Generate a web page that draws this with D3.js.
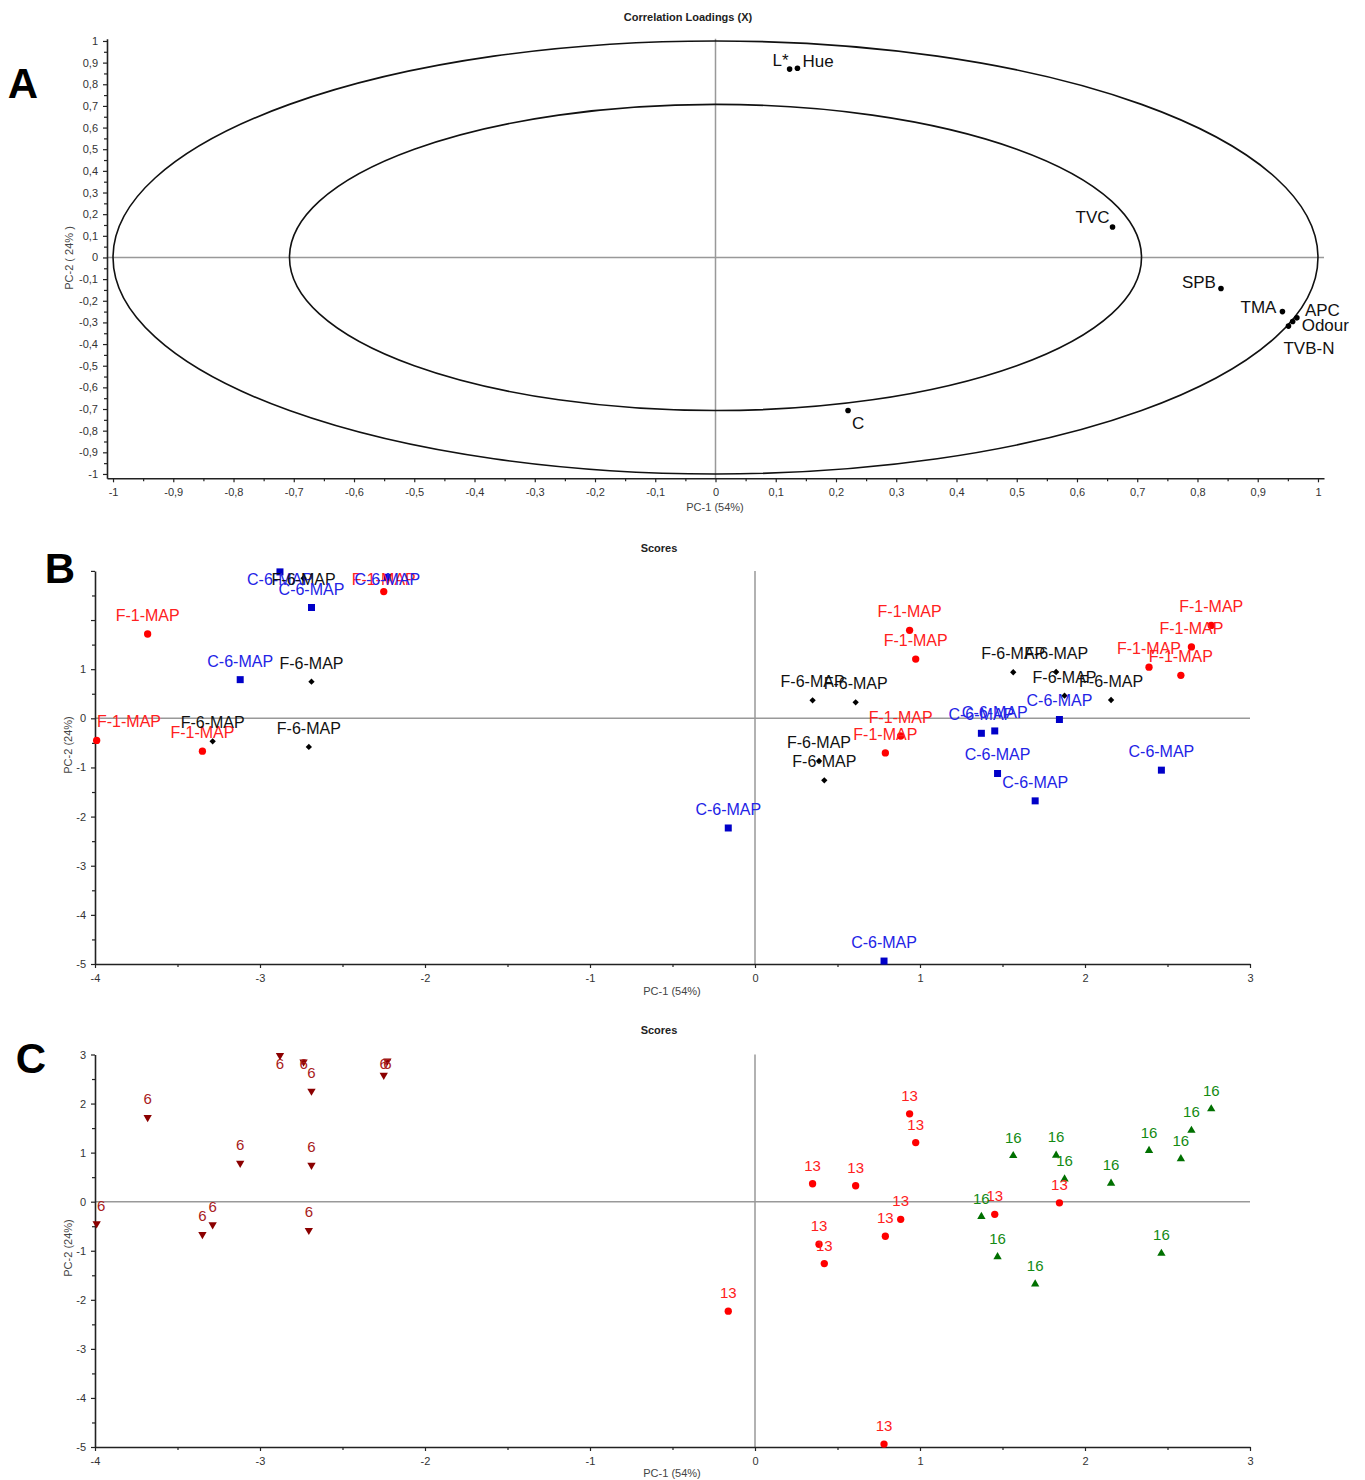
<!DOCTYPE html>
<html>
<head>
<meta charset="utf-8">
<script src="https://cdn.jsdelivr.net/npm/d3@7"></script>
<style>
  body { margin: 0; background: #fff; }
  text { font-family: "Liberation Sans", Arial, sans-serif; }
</style>
</head>
<body>
<svg id="fig" width="1365" height="1480"></svg>
<script>
// ---- data ----
const loadingNames = ["L*", "Hue", "TVC", "SPB", "TMA", "APC", "Odour", "TVB-N", "C"];
const loadingPC1 = [0.123, 0.136, 0.659, 0.839, 0.941, 0.965, 0.958, 0.951, 0.220];
const loadingPC2 = [0.870, 0.874, 0.141, -0.143, -0.250, -0.279, -0.296, -0.317, -0.707];

const scorePC1 = [-2.879, -2.736, -2.688, -2.250, -2.228, -3.681, -3.120, -2.688, -3.990, -3.349, -3.287, -2.704,
                  0.937, 0.974, 0.349, 0.610, 0.883, 0.790, 0.388, 0.420, -0.162, 0.782, 1.453, 1.845,
                  1.565, 1.825, 1.876, 2.158, 2.388, 2.581, 2.645, 2.765, 1.372, 1.470, 1.698, 2.463];
const scorePC2 = [2.980, 2.850, 2.255, 2.580, 2.870, 1.716, 0.787, 0.746, -0.450, -0.668, -0.468, -0.583,
                  1.790, 1.205, 0.366, 0.325, -0.360, -0.705, -0.868, -1.262, -2.232, -4.940, -0.257, -0.024,
                  0.937, 0.943, 0.461, 0.373, 1.040, 0.875, 1.452, 1.890, -0.305, -1.123, -1.680, -1.055];
const scoreTreatment = ["C-6-MAP", "F-6-MAP", "C-6-MAP", "F-1-MAP", "C-6-MAP", "F-1-MAP", "C-6-MAP", "F-6-MAP", "F-1-MAP", "F-1-MAP", "F-6-MAP", "F-6-MAP",
                        "F-1-MAP", "F-1-MAP", "F-6-MAP", "F-6-MAP", "F-1-MAP", "F-1-MAP", "F-6-MAP", "F-6-MAP", "C-6-MAP", "C-6-MAP", "C-6-MAP", "C-6-MAP",
                        "F-6-MAP", "F-6-MAP", "F-6-MAP", "F-6-MAP", "F-1-MAP", "F-1-MAP", "F-1-MAP", "F-1-MAP", "C-6-MAP", "C-6-MAP", "C-6-MAP", "C-6-MAP"];
const scoreDay = ["6", "6", "6", "6", "6", "6", "6", "6", "6", "6", "6", "6",
                  "13", "13", "13", "13", "13", "13", "13", "13", "13", "13", "13", "13",
                  "16", "16", "16", "16", "16", "16", "16", "16", "16", "16", "16", "16"];

const loadingTicks = [-1, -0.9, -0.8, -0.7, -0.6, -0.5, -0.4, -0.3, -0.2, -0.1, 0, 0.1, 0.2, 0.3, 0.4, 0.5, 0.6, 0.7, 0.8, 0.9, 1];
const scoreXTicks = [-4, -3, -2, -1, 0, 1, 2, 3];
const scoreYTicks = [-5, -4, -3, -2, -1, 0, 1, 2, 3];
const scoreYLabelsB = [-5, -4, -3, -2, -1, 0, 1];

// ---- styles ----
const AXIS_COLOR = "#222";
const ZERO_COLOR = "#999";
const TREAT_STYLE = {
  "F-1-MAP": { fill: "#ff0000", text: "#ff2020", shape: "circle" },
  "C-6-MAP": { fill: "#0000c8", text: "#2323e6", shape: "square" },
  "F-6-MAP": { fill: "#000000", text: "#111111", shape: "diamond" }
};
const DAY_STYLE = {
  "6":  { fill: "#8b0000", text: "#a82020", shape: "down" },
  "13": { fill: "#ff0000", text: "#ff2020", shape: "circle" },
  "16": { fill: "#007000", text: "#138a13", shape: "up" }
};
// label offsets (px) for the loadings plot
const LOADING_LABEL_POS = {
  "L*":    { dx: -1, dy: -3,  anchor: "end" },
  "Hue":   { dx: 5,  dy: -1,  anchor: "start" },
  "TVC":   { dx: -3, dy: -4,  anchor: "end" },
  "SPB":   { dx: -5, dy: 0,   anchor: "end" },
  "TMA":   { dx: -6, dy: 1,   anchor: "end" },
  "APC":   { dx: 8,  dy: -2,  anchor: "start" },
  "Odour": { dx: 9,  dy: 9,   anchor: "start" },
  "TVB-N": { dx: -5, dy: 28,  anchor: "start" },
  "C":     { dx: 4,  dy: 18,  anchor: "start" }
};

const svg = d3.select("#fig");
const fmt = v => String(Math.round(v * 100) / 100).replace(".", ",");

function minorOf(ticks) {
  const m = [];
  for (let i = 0; i < ticks.length - 1; i++) m.push((ticks[i] + ticks[i + 1]) / 2);
  return m;
}

function drawAxes(g, x, y, xt, yt, ytLabels) {
  const x0 = x.range()[0], y0 = y.range()[0];
  const xa = g.append("g").attr("transform", "translate(0," + y0 + ")")
    .call(d3.axisBottom(x).tickValues(xt).tickFormat(fmt).tickSize(4).tickSizeOuter(0).tickPadding(6));
  g.append("g").attr("transform", "translate(0," + y0 + ")")
    .call(d3.axisBottom(x).tickValues(minorOf(xt)).tickFormat("").tickSize(3))
    .select(".domain").remove();
  const ya = g.append("g").attr("transform", "translate(" + x0 + ",0)")
    .call(d3.axisLeft(y).tickValues(yt).tickFormat(d => (ytLabels && ytLabels.indexOf(d) < 0) ? "" : fmt(d))
      .tickSize(4).tickSizeOuter(0).tickPadding(5));
  g.append("g").attr("transform", "translate(" + x0 + ",0)")
    .call(d3.axisLeft(y).tickValues(minorOf(yt)).tickFormat("").tickSize(3))
    .select(".domain").remove();
  g.selectAll(".domain").attr("stroke", AXIS_COLOR).attr("stroke-width", 1.6);
  g.selectAll(".tick line").attr("stroke", AXIS_COLOR).attr("stroke-width", 1.2);
  g.selectAll(".tick text").attr("font-size", 11).attr("fill", "#333")
    .attr("font-family", "'Liberation Sans', Arial, sans-serif");
  return { xa, ya };
}

function zeroLines(g, x, y) {
  g.append("line").attr("x1", x.range()[0]).attr("x2", x.range()[1])
    .attr("y1", y(0)).attr("y2", y(0)).attr("stroke", ZERO_COLOR).attr("stroke-width", 1.5);
  g.append("line").attr("x1", x(0)).attr("x2", x(0))
    .attr("y1", y.range()[0]).attr("y2", y.range()[1]).attr("stroke", ZERO_COLOR).attr("stroke-width", 1.5);
}

function titles(g, title, tx, ty, xlab, xlx, xly, ylab, ylx, yly) {
  g.append("text").text(title).attr("x", tx).attr("y", ty).attr("text-anchor", "middle")
    .attr("font-size", 11).attr("font-weight", "bold").attr("fill", "#222")
    .attr("font-family", "'Liberation Sans Narrow', 'Liberation Sans', Arial, sans-serif");
  g.append("text").text(xlab).attr("x", xlx).attr("y", xly).attr("text-anchor", "middle")
    .attr("font-size", 11).attr("fill", "#444");
  g.append("text").text(ylab).attr("text-anchor", "middle").attr("font-size", 11).attr("fill", "#444")
    .attr("transform", "translate(" + ylx + "," + yly + ") rotate(-90)");
}

function panelLetter(t, x, y) {
  svg.append("text").text(t).attr("x", x).attr("y", y).attr("text-anchor", "middle")
    .attr("font-size", 42).attr("font-weight", "bold").attr("fill", "#000")
    .attr("font-family", "Lato, 'Open Sans', sans-serif");
}

function marker(g, shape, cx, cy, fill) {
  let sym, rot = 0, size;
  if (shape === "circle") { sym = d3.symbolCircle; size = 42; }
  else if (shape === "square") { sym = d3.symbolSquare; size = 49; }
  else if (shape === "diamond") { sym = d3.symbolSquare; size = 20; rot = 45; }
  else if (shape === "up") { sym = d3.symbolTriangle; size = 30; }
  else { sym = d3.symbolTriangle; size = 30; rot = 180; }
  g.append("path").attr("d", d3.symbol().type(sym).size(size)())
    .attr("transform", "translate(" + cx + "," + cy + ") rotate(" + rot + ")")
    .attr("fill", fill);
}

// ---- Panel A: correlation loadings ----
{
  const g = svg.append("g");
  const x = d3.scaleLinear().domain([-1.01, 1.01]).range([107, 1324]);
  const y = d3.scaleLinear().domain([-1.02, 1.01]).range([478.3, 38.8]);
  zeroLines(g, x, y);
  [1, Math.SQRT1_2].forEach(r => {
    g.append("ellipse").attr("cx", x(0)).attr("cy", y(0))
      .attr("rx", x(r) - x(0)).attr("ry", y(0) - y(r))
      .attr("fill", "none").attr("stroke", "#111").attr("stroke-width", 1.6);
  });
  drawAxes(g, x, y, loadingTicks, loadingTicks);
  titles(g, "Correlation Loadings (X)", 688, 21, "PC-1 (54%)", 715, 511, "PC-2 ( 24% )", 73, 258);
  loadingNames.forEach((n, i) => {
    const px = x(loadingPC1[i]), py = y(loadingPC2[i]);
    g.append("circle").attr("cx", px).attr("cy", py).attr("r", 2.8).attr("fill", "#000");
    const p = LOADING_LABEL_POS[n];
    g.append("text").text(n).attr("x", px + p.dx).attr("y", py + p.dy)
      .attr("text-anchor", p.anchor).attr("font-size", 17).attr("fill", "#111");
  });
  panelLetter("A", 23, 98);
}

// ---- Panels B and C: scores ----
function scoresPanel(y0, y1, labelOf, styleOf, fontSize, yLabels, titleY, xlabY, ylabY) {
  const g = svg.append("g");
  const x = d3.scaleLinear().domain([-4, 3]).range([95, 1250]);
  const y = d3.scaleLinear().domain([-5, 3]).range([y0, y1]);
  zeroLines(g, x, y);
  drawAxes(g, x, y, scoreXTicks, scoreYTicks, yLabels);
  titles(g, "Scores", 659, titleY, "PC-1 (54%)", 672, xlabY, "PC-2 (24%)", 72, ylabY);
  const top = y(3), left = x(-4);
  const idx = d3.range(scorePC1.length);
  idx.forEach(i => {
    const st = styleOf(i);
    marker(g, st.shape, x(scorePC1[i]), y(scorePC2[i]), st.fill);
  });
  idx.forEach(i => {
    const st = styleOf(i);
    const px = x(scorePC1[i]), py = y(scorePC2[i]);
    const t = g.append("text").text(labelOf(i)).attr("text-anchor", "middle")
      .attr("font-size", fontSize).attr("fill", st.text)
      .attr("y", Math.max(py - 13, top + 14));
    const w = t.node().getComputedTextLength();
    t.attr("x", Math.max(px, left + 2 + w / 2));
  });
  return g;
}

scoresPanel(964, 570.9, i => scoreTreatment[i], i => TREAT_STYLE[scoreTreatment[i]], 16, scoreYLabelsB, 552, 995, 745);
panelLetter("B", 60, 583);
scoresPanel(1447, 1054.5, i => scoreDay[i], i => DAY_STYLE[scoreDay[i]], 15, null, 1034, 1477, 1248);
panelLetter("C", 31, 1073);
</script>
</body>
</html>
